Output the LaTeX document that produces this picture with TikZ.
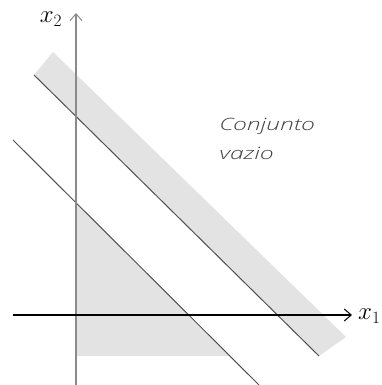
\documentclass[tikz,border=0pt]{standalone}
\usepackage{fontspec}
\newfontfamily\handfont{Open Sans Light}[ItalicFont={Open Sans Light Italic}]
\usetikzlibrary{arrows.meta}
\definecolor{bandgray}{HTML}{E3E3E3}
\definecolor{linegray}{HTML}{505050}
\definecolor{axisgray}{HTML}{8A8A8A}
\tikzset{
  region/.style={fill=bandgray, draw=none},
  bound/.style={draw=linegray, line width=1pt},
  axis/.style={line width=1.4pt, -{Straight Barb[length=7pt,width=12pt,line width=1pt]}},
  axlabel/.style={inner sep=0pt, font=\fontsize{23}{26}\selectfont},
  note/.style={inner sep=0pt, align=left, xscale=1.45, font=\handfont\itshape\fontsize{17}{29}\selectfont, text=black!75}
}
\begin{document}
\begin{tikzpicture}[x=1pt,y=-1pt]
\useasboundingbox[fill=white] (0,0) rectangle (382,385);
% coordinates
\coordinate (bA) at (34,75);
\coordinate (bB) at (53,52);
\coordinate (bC) at (346,337);
\coordinate (bD) at (319,356);
\coordinate (tA) at (76,203);
\coordinate (tB) at (76,356);
\coordinate (tC) at (229,356);
\coordinate (lA) at (13,140);
\coordinate (lB) at (259,385);
\coordinate (yS) at (76,385);
\coordinate (yE) at (76,13);
\coordinate (xS) at (13,315);
\coordinate (xE) at (352,315);
% regions
\fill[region] (bA) -- (bB) -- (bC) -- (bD) -- cycle;
\fill[region] (tA) -- (tB) -- (tC) -- cycle;
% boundary lines
\draw[bound] (bA) -- (bD);
\draw[bound] (lA) -- (lB);
% axes
\draw[axis, draw=axisgray] (yS) -- (yE);
\draw[axis, draw=black] (xS) -- (xE);
% labels
\node[axlabel, anchor=west] (x1) at (358,316) {$x_1$};
\node[axlabel] (x2) at (51,19) {$x_2$};
\node[note, anchor=north west] (cv) at (219,118) {Conjunto\\vazio};
\end{tikzpicture}
\end{document}
